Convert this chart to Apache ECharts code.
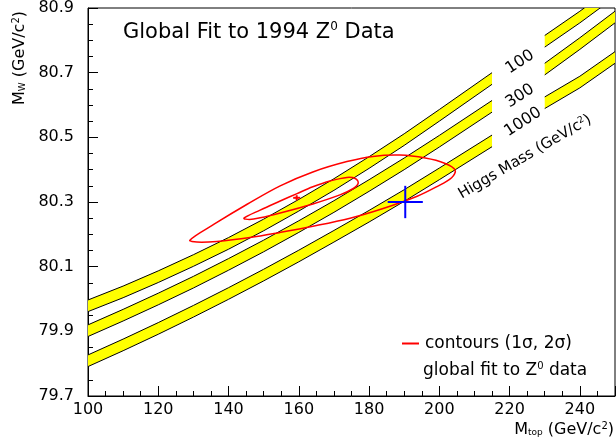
<!DOCTYPE html>
<html>
<head>
<meta charset="utf-8">
<script src="https://cdn.jsdelivr.net/npm/echarts@6/dist/echarts.min.js"></script>
<style>
  html, body { margin: 0; padding: 0; background: #fff; }
  #chart { width: 616px; height: 439px; }
</style>
</head>
<body>
<div id="chart"></div>
<script>
// y axis is drawn as an offset from 79.7 so the ticks land on 79.7, 79.9, ...
const Y0 = 79.7;
const FONT = 'DejaVu Sans';

// top mass points where the band edges were read
const mtop = [100, 110, 120, 130, 140, 150, 160, 170, 180, 190, 200, 215, 230, 240, 250];
const gapFrom = 215;
const gapTo = 230;

// Higgs mass bands, upper and lower edge (GeV/c2)
const higgs100Hi = [79.997, 80.040, 80.087, 80.137, 80.190, 80.247, 80.308, 80.372, 80.440, 80.511, 80.586, 80.700, 80.815, 80.890, 80.970];
const higgs100Lo = [79.961, 80.004, 80.051, 80.101, 80.154, 80.211, 80.272, 80.336, 80.404, 80.475, 80.550, 80.664, 80.779, 80.854, 80.934];
const higgs300Hi = [79.920, 79.968, 80.018, 80.070, 80.125, 80.182, 80.242, 80.304, 80.369, 80.436, 80.506, 80.614, 80.729, 80.808, 80.890];
const higgs300Lo = [79.884, 79.932, 79.982, 80.034, 80.089, 80.146, 80.206, 80.268, 80.333, 80.400, 80.470, 80.578, 80.693, 80.772, 80.854];
const higgs1000Hi = [79.827, 79.876, 79.927, 79.980, 80.035, 80.092, 80.151, 80.212, 80.274, 80.338, 80.405, 80.507, 80.625, 80.689, 80.765];
const higgs1000Lo = [79.791, 79.840, 79.891, 79.944, 79.999, 80.056, 80.115, 80.176, 80.238, 80.302, 80.369, 80.471, 80.589, 80.653, 80.729];

// fit contours [mtop, mw], closed loops
const contour1s = [
  [144.4, 80.250], [149.0, 80.275], [154.7, 80.303], [159.5, 80.326], [164.0, 80.347],
  [168.9, 80.365], [173.7, 80.376], [176.2, 80.372], [176.9, 80.358], [175.4, 80.341],
  [171.7, 80.322], [164.0, 80.294], [154.7, 80.266], [149.0, 80.251], [146.0, 80.246]
];
const contour2s = [
  [129.0, 80.182], [136.0, 80.232], [145.3, 80.293], [154.7, 80.350], [164.0, 80.393],
  [173.7, 80.425], [181.1, 80.441], [188.8, 80.445], [196.0, 80.436], [201.5, 80.420],
  [204.5, 80.399], [203.5, 80.375], [199.0, 80.346], [193.7, 80.318], [184.0, 80.280],
  [174.6, 80.250], [164.0, 80.225], [154.7, 80.206], [146.1, 80.190], [136.7, 80.178],
  [131.0, 80.176]
];

// best fit point and the direct measurement (value, error)
const bestFit = [159.4, 80.313, 1.0, 0.008];
const direct = [190.3, 80.300, 5.0, 0.05];

const bands = [
  { hi: higgs100Hi, lo: higgs100Lo },
  { hi: higgs300Hi, lo: higgs300Lo },
  { hi: higgs1000Hi, lo: higgs1000Lo }
];
const bandItems = [];
bands.forEach((b, bi) => {
  bandItems.push([bi, 0]);
  bandItems.push([bi, 1]);
});

function renderBand(params, api) {
  const item = bandItems[params.dataIndex];
  const b = bands[item[0]];
  const idx = [];
  mtop.forEach((x, i) => {
    if (item[1] === 0 ? x <= gapFrom : x >= gapTo) idx.push(i);
  });
  const top = idx.map(i => api.coord([mtop[i], b.hi[i] - Y0]));
  const bot = idx.map(i => api.coord([mtop[i], b.lo[i] - Y0]));
  return {
    type: 'group',
    children: [
      { type: 'polygon', shape: { points: top.concat(bot.slice().reverse()) }, style: { fill: '#ffff00' } },
      { type: 'polyline', shape: { points: top }, style: { stroke: '#000', lineWidth: 1, fill: null } },
      { type: 'polyline', shape: { points: bot }, style: { stroke: '#000', lineWidth: 1, fill: null } }
    ]
  };
}

function contourRenderer(pts) {
  return function (params, api) {
    return {
      type: 'polygon',
      shape: { points: pts.map(p => api.coord([p[0], p[1] - Y0])), smooth: 0.35 },
      style: { fill: null, stroke: '#ff0000', lineWidth: 1.5 }
    };
  };
}

function crossRenderer(color, width) {
  return function (params, api) {
    const x = api.value(0), y = api.value(1), ex = api.value(2), ey = api.value(3);
    const l = api.coord([x - ex, y]), r = api.coord([x + ex, y]);
    const t = api.coord([x, y + ey]), b = api.coord([x, y - ey]);
    const st = { stroke: color, lineWidth: width };
    return {
      type: 'group',
      children: [
        { type: 'line', shape: { x1: l[0], y1: l[1], x2: r[0], y2: r[1] }, style: st },
        { type: 'line', shape: { x1: t[0], y1: t[1], x2: b[0], y2: b[1] }, style: st }
      ]
    };
  };
}

const CONTOUR_NAME = 'contours (1\u03c3, 2\u03c3)';

const chart = echarts.init(document.getElementById('chart'));
chart.setOption({
  animation: false,
  grid: {
    left: 88, right: 1, top: 8, bottom: 43,
    show: true, borderColor: '#000', borderWidth: 1
  },
  xAxis: {
    type: 'value',
    min: 100, max: 250, interval: 20,
    axisLine: { lineStyle: { color: '#000' } },
    axisTick: { inside: true, length: 10, lineStyle: { color: '#000' } },
    minorTick: { show: true, splitNumber: 4, length: 5, lineStyle: { color: '#000' } },
    splitLine: { show: false },
    axisLabel: { color: '#000', fontSize: 16, fontFamily: FONT, margin: 6, showMaxLabel: false }
  },
  yAxis: {
    type: 'value',
    min: 0, max: 1.2, interval: 0.2,
    axisLine: { show: true, lineStyle: { color: '#000' } },
    axisTick: { show: true, inside: true, length: 10, lineStyle: { color: '#000' } },
    minorTick: { show: true, splitNumber: 4, length: 5, lineStyle: { color: '#000' } },
    splitLine: { show: false },
    axisLabel: {
      color: '#000', fontSize: 16, fontFamily: FONT, margin: 14,
      formatter: v => (v + Y0).toFixed(1)
    }
  },
  legend: {
    left: 397, top: 330,
    icon: 'rect', itemWidth: 17, itemHeight: 2, itemGap: 4,
    textStyle: { color: '#000', fontSize: 17, fontFamily: FONT, padding: [0, 0, 0, 1] },
    data: [CONTOUR_NAME]
  },
  graphic: [
    {
      type: 'text', left: 123, top: 21,
      style: {
        text: 'Global Fit to 1994 Z{s|0} Data',
        font: '21px "DejaVu Sans"', fill: '#000',
        rich: { s: { fontSize: 12, fontFamily: FONT, padding: [0, 0, 11, 0] } }
      }
    },
    {
      type: 'text', left: 423, top: 361,
      style: {
        text: 'global fit to Z{s|0} data',
        font: '17px "DejaVu Sans"', fill: '#000',
        rich: { s: { fontSize: 10, fontFamily: FONT, padding: [0, 0, 9, 0] } }
      }
    },
    {
      type: 'text', x: 20, y: 58, rotation: Math.PI / 2,
      style: {
        text: 'M{sub|W} (GeV/c{sup|2})',
        font: '16px "DejaVu Sans"', fill: '#000', align: 'center', verticalAlign: 'middle',
        rich: {
          sub: { fontSize: 9, fontFamily: FONT, padding: [6, 0, 0, 0] },
          sup: { fontSize: 10, fontFamily: FONT, padding: [0, 0, 7, 0] }
        }
      }
    },
    {
      type: 'text', x: 614, y: 430,
      style: {
        text: 'M{sub|top} (GeV/c{sup|2})',
        font: '16px "DejaVu Sans"', fill: '#000', align: 'right', verticalAlign: 'middle',
        rich: {
          sub: { fontSize: 9, fontFamily: FONT, padding: [6, 0, 0, 0] },
          sup: { fontSize: 10, fontFamily: FONT, padding: [0, 0, 7, 0] }
        }
      }
    },
    { type: 'text', x: 520, y: 62, rotation: 33 * Math.PI / 180,
      style: { text: '100', font: '16px "DejaVu Sans"', fill: '#000', align: 'center', verticalAlign: 'middle' } },
    { type: 'text', x: 520, y: 96, rotation: 33 * Math.PI / 180,
      style: { text: '300', font: '16px "DejaVu Sans"', fill: '#000', align: 'center', verticalAlign: 'middle' } },
    { type: 'text', x: 523, y: 122, rotation: 33 * Math.PI / 180,
      style: { text: '1000', font: '16px "DejaVu Sans"', fill: '#000', align: 'center', verticalAlign: 'middle' } },
    {
      type: 'text', x: 525, y: 157, rotation: 30.5 * Math.PI / 180,
      style: {
        text: 'Higgs Mass (GeV/c{sup|2})',
        font: '15px "DejaVu Sans"', fill: '#000', align: 'center', verticalAlign: 'middle',
        rich: { sup: { fontSize: 9, fontFamily: FONT, padding: [0, 0, 7, 0] } }
      }
    }
  ],
  series: [
    {
      type: 'custom',
      name: 'bands',
      clip: true,
      renderItem: renderBand,
      data: bandItems,
      silent: true,
      z: 1
    },
    {
      type: 'custom',
      name: CONTOUR_NAME,
      clip: true,
      itemStyle: { color: '#ff0000' },
      renderItem: contourRenderer(contour2s),
      data: [[contour2s[0][0], contour2s[0][1] - Y0]],
      z: 3
    },
    {
      type: 'custom',
      name: CONTOUR_NAME,
      clip: true,
      itemStyle: { color: '#ff0000' },
      renderItem: contourRenderer(contour1s),
      data: [[contour1s[0][0], contour1s[0][1] - Y0]],
      z: 3
    },
    {
      type: 'custom',
      name: 'best fit',
      renderItem: crossRenderer('#ff0000', 2),
      data: [[bestFit[0], bestFit[1] - Y0, bestFit[2], bestFit[3]]],
      z: 4
    },
    {
      type: 'custom',
      name: 'direct',
      renderItem: crossRenderer('#0000ff', 2),
      data: [[direct[0], direct[1] - Y0, direct[2], direct[3]]],
      z: 4
    }
  ]
});
</script>
</body>
</html>
